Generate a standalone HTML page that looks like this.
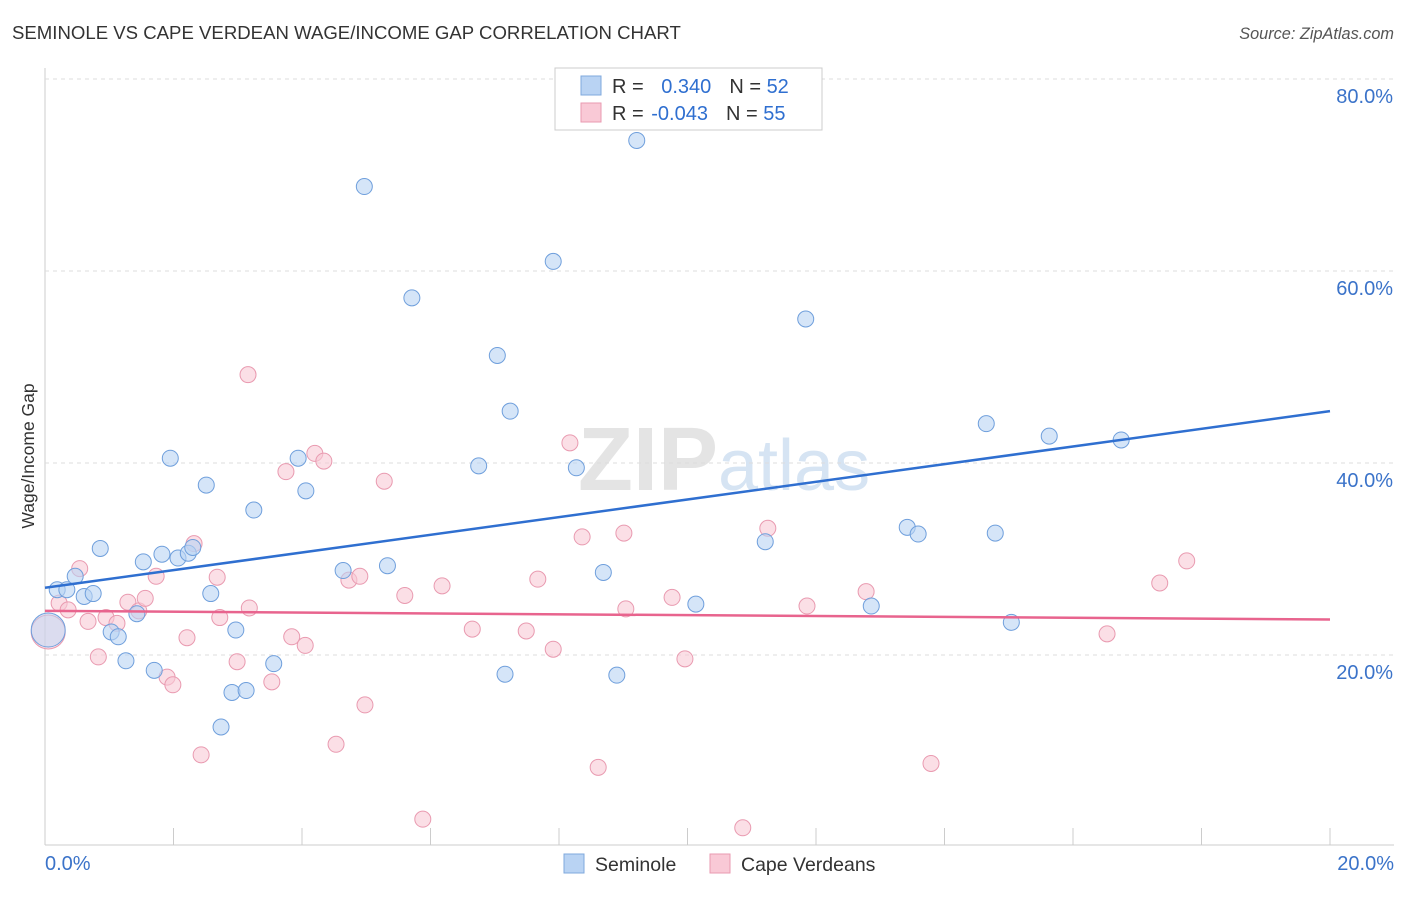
<!DOCTYPE html>
<html><head><meta charset="utf-8"><style>
body{margin:0;background:#fff;font-family:"Liberation Sans",sans-serif;}
svg text{font-family:"Liberation Sans",sans-serif;}
</style></head><body>
<svg id="c" width="1406" height="892" xmlns="http://www.w3.org/2000/svg">
<text x="12" y="39" font-size="18.6" fill="#333">SEMINOLE VS CAPE VERDEAN WAGE/INCOME GAP CORRELATION CHART</text>
<text x="1394" y="39" font-size="16.3" fill="#555" text-anchor="end" font-style="italic">Source: ZipAtlas.com</text>
<text x="718" y="490" font-size="90" fill="#e4e4e4" text-anchor="end" font-family="Liberation Serif" font-weight="bold">ZIP</text>
<text x="718" y="490" font-size="72" fill="#d6e4f3">atlas</text>
<g id="grid"></g><g id="marks"></g>
<text x="34" y="456" font-size="17.5" fill="#333" text-anchor="middle" transform="rotate(-90 34 456)">Wage/Income Gap</text>
<text x="45" y="870" font-size="20" fill="#3b73c9">0.0%</text>
<text x="1394" y="870" font-size="20" fill="#3b73c9" text-anchor="end">20.0%</text>
<g>
<rect x="555" y="68" width="267" height="62" fill="#fff" stroke="#ccc"/>
<rect x="581" y="76" width="20" height="19" fill="#b9d3f3" stroke="#7fa8dd"/>
<rect x="581" y="103" width="20" height="19" fill="#f9c9d6" stroke="#e99ab0"/>
<text x="612" y="93" font-size="20" fill="#333">R = <tspan fill="#2f6fd0" dx="12">0.340</tspan><tspan dx="18" fill="#333">N = </tspan><tspan fill="#2f6fd0">52</tspan></text>
<text x="612" y="120" font-size="20" fill="#333">R = <tspan fill="#2f6fd0" dx="2">-0.043</tspan><tspan dx="18" fill="#333">N = </tspan><tspan fill="#2f6fd0">55</tspan></text>
</g>
<g>
<rect x="564" y="854" width="20" height="19" fill="#b9d3f3" stroke="#7fa8dd"/>
<text x="595" y="871" font-size="19.5" fill="#333">Seminole</text>
<rect x="710" y="854" width="20" height="19" fill="#f9c9d6" stroke="#e99ab0"/>
<text x="741" y="871" font-size="19.5" fill="#333">Cape Verdeans</text>
</g>
</svg>
<script>
const yTicks=[20,40,60,80];
const xTickVals=[0,2,4,6,8,10,12,14,16,18,20];
const blueX=[0.19,0.34,0.47,0.61,0.75,0.86,1.03,1.14,1.26,1.43,1.53,1.70,1.82,1.95,2.07,2.23,2.30,2.51,2.58,2.74,2.91,2.97,3.13,3.25,3.56,3.94,4.06,4.64,4.97,5.33,5.71,6.75,7.04,7.16,7.24,7.91,8.27,8.69,8.90,9.21,10.13,11.21,11.84,12.86,13.42,13.59,14.65,14.79,15.04,15.63,16.75,0.05];
const blueY=[26.8,26.8,28.2,26.1,26.4,31.1,22.4,21.9,19.4,24.3,29.7,18.4,30.5,40.5,30.1,30.6,31.2,37.7,26.4,12.5,16.1,22.6,16.3,35.1,19.1,40.5,37.1,28.8,68.8,29.3,57.2,39.7,51.2,18.0,45.4,61.0,39.5,28.6,17.9,73.6,25.3,31.8,55.0,25.1,33.3,32.6,44.1,32.7,23.4,42.8,42.4,22.6];
const pinkX=[0.05,0.22,0.36,0.54,0.67,0.83,0.95,1.12,1.29,1.46,1.56,1.73,1.90,1.99,2.21,2.32,2.43,2.68,2.72,2.99,3.16,3.18,3.53,3.75,3.84,4.05,4.20,4.34,4.53,4.73,4.90,4.98,5.28,5.60,5.88,6.18,6.65,7.49,7.67,7.91,8.17,8.36,8.61,9.01,9.04,9.76,9.96,10.86,11.25,11.86,12.78,13.79,16.53,17.35,17.77];
const pinkY=[22.4,25.4,24.7,29.0,23.5,19.8,23.9,23.3,25.5,24.6,25.9,28.2,17.7,16.9,21.8,31.6,9.6,28.1,23.9,19.3,49.2,24.9,17.2,39.1,21.9,21.0,41.0,40.2,10.7,27.8,28.2,14.8,38.1,26.2,2.9,27.2,22.7,22.5,27.9,20.6,42.1,32.3,8.3,32.7,24.8,26.0,19.6,2.0,33.2,25.1,26.6,8.7,22.2,27.5,29.8];
const blueTrend=[0,27.0,20,45.4];
const pinkTrend=[0,24.6,20,23.7];
const X=v=>45+v*64.25, Y=v=>847-v*9.6;
const NS='http://www.w3.org/2000/svg';
function mk(t,a,p){const e=document.createElementNS(NS,t);for(const k in a)e.setAttribute(k,a[k]);p.appendChild(e);return e;}
const g=document.getElementById('grid'),m=document.getElementById('marks');
mk('line',{x1:45,y1:68,x2:45,y2:845,stroke:'#ccc'},g);
mk('line',{x1:45,y1:845,x2:1394,y2:845,stroke:'#ccc'},g);
yTicks.forEach(v=>{const l=mk('line',{x1:45,y1:Y(v),x2:1394,y2:Y(v),stroke:'#ddd','stroke-dasharray':'4,4'},g);


const t=mk('text',{x:1393,y:Y(v)+24,'font-size':20,fill:'#3b73c9','text-anchor':'end'},g);t.textContent=v.toFixed(1)+'%';

});
xTickVals.forEach(v=>{const l=mk('line',{x1:X(v),y1:828,x2:X(v),y2:845,stroke:'#ccc'},g);

});
function pts(xs,ys,f,s,name){xs.forEach((x,i)=>{const big=i===xs.length-1&&name==='seminole-point'||i===0&&name==='cape-verdean-point';
const c=mk('circle',{cx:X(x),cy:Y(ys[i]),r:big?17:8,fill:f,'fill-opacity':big?0.5:0.6,stroke:s,'stroke-width':1},m);

});}
pts(pinkX,pinkY,'#f9c9d6','#e99ab0','cape-verdean-point');
pts(blueX,blueY,'#b9d3f3','#6f9fdc','seminole-point');
const bl=mk('line',{x1:X(blueTrend[0]),y1:Y(blueTrend[1]),x2:X(blueTrend[2]),y2:Y(blueTrend[3]),stroke:'#2f6fd0','stroke-width':2.5},m);


const pl=mk('line',{x1:X(pinkTrend[0]),y1:Y(pinkTrend[1]),x2:X(pinkTrend[2]),y2:Y(pinkTrend[3]),stroke:'#e8648e','stroke-width':2.5},m);


</script>
</body></html>
